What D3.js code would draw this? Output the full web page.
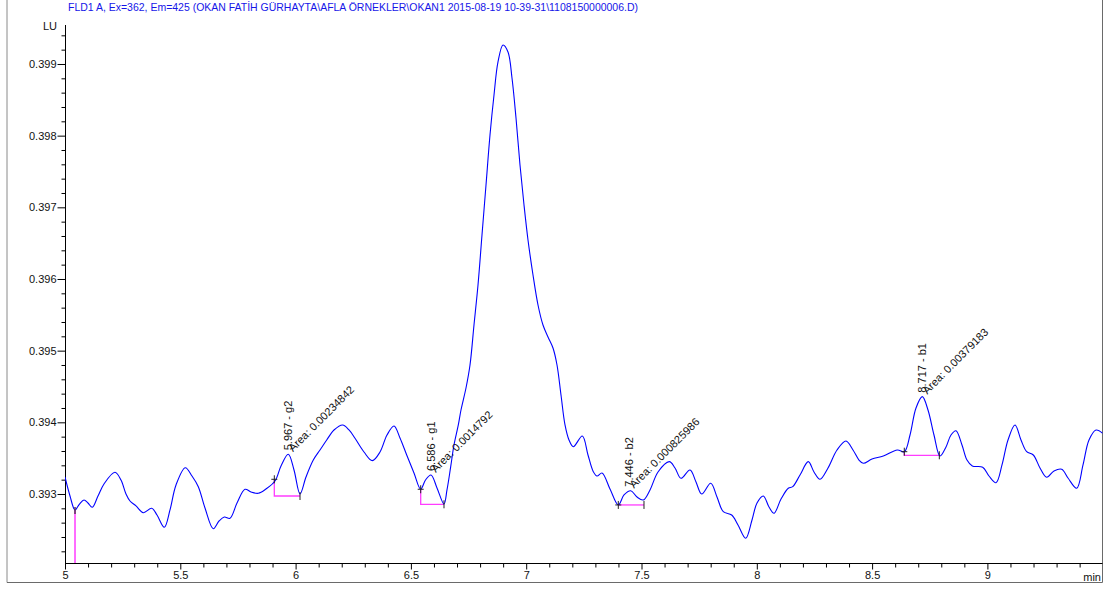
<!DOCTYPE html>
<html><head><meta charset="utf-8">
<script src="https://cdn.jsdelivr.net/npm/d3@7"></script>
<style>
body{margin:0;background:#fff}
text{font-family:"Liberation Sans",Arial,sans-serif;}
</style>
</head><body>
<svg id="chart" width="1115" height="590"></svg>
<script>
// ---------- data ----------
const titleText = "FLD1 A, Ex=362, Em=425 (OKAN FATİH GÜRHAYTA\\AFLA ÖRNEKLER\\OKAN1 2015-08-19 10-39-31\\1108150000006.D)";
const yUnit = "LU";
const xUnit = "min";
const xTickValues = [5, 5.5, 6, 6.5, 7, 7.5, 8, 8.5, 9];
const xTickLabels = ["5", "5.5", "6", "6.5", "7", "7.5", "8", "8.5", "9"];
const yTickValues = [0.393, 0.394, 0.395, 0.396, 0.397, 0.398, 0.399];
const yTickLabels = ["0.393", "0.394", "0.395", "0.396", "0.397", "0.398", "0.399"];

const time = [5.0000,5.0217,5.0434,5.0629,5.0824,5.0997,5.1184,5.1431,5.1691,5.2168,
5.2428,5.2645,5.2819,5.3079,5.3395,5.3760,5.3990,5.4306,5.4553,5.4814,
5.5217,5.5507,5.5781,5.6071,5.6431,5.6678,5.6908,5.7155,5.7459,5.7806,
5.8066,5.8382,5.8716,5.9107,5.9367,5.9683,5.9931,6.0191,6.0451,6.0767,
6.1058,6.1349,6.1665,6.2042,6.2316,6.2576,6.2966,6.3326,6.3660,6.3964,
6.4267,6.4527,6.4818,6.5134,6.5425,6.5633,6.5872,6.6132,6.6435,6.6565,
6.6726,6.6869,6.7056,6.7172,6.7389,6.7563,6.7736,6.7910,6.8083,6.8257,
6.8430,6.8604,6.8777,6.8994,6.9211,6.9384,6.9558,6.9731,6.9905,7.0078,
7.0295,7.0512,7.0728,7.0945,7.1162,7.1336,7.1509,7.1683,7.1856,7.2043,
7.2433,7.2680,7.2910,7.3070,7.3287,7.3634,7.3994,7.4241,7.4532,7.4805,
7.5078,7.5369,7.5716,7.6206,7.6453,7.6713,7.7103,7.7364,7.7611,7.8001,
7.8274,7.8547,7.8911,7.9185,7.9519,7.9792,8.0009,8.0282,8.0529,8.0746,
8.1050,8.1366,8.1557,8.1874,8.2233,8.2480,8.2741,8.3088,8.3478,8.3868,
8.4172,8.4432,8.4618,8.4996,8.5486,8.6093,8.6396,8.6644,8.6904,8.7177,
8.7424,8.7684,8.7944,8.8205,8.8421,8.8638,8.8898,8.9115,8.9345,8.9796,
9.0069,9.0373,9.0633,9.0893,9.1197,9.1457,9.1704,9.1990,9.2281,9.2571,
9.2888,9.3222,9.3495,9.3871,9.4146,9.4406,9.4709,9.5000];

const signal = [0.393237,0.392972,0.392777,0.392860,0.392916,0.392874,0.392814,0.392972,0.393140,0.393303,
0.393195,0.393000,0.392902,0.392833,0.392739,0.392800,0.392707,0.392535,0.392777,0.393126,
0.393367,0.393251,0.393102,0.392805,0.392516,0.392623,0.392679,0.392661,0.392874,0.393066,
0.393028,0.393010,0.393070,0.393181,0.393391,0.393554,0.393335,0.393000,0.393237,0.393474,
0.393614,0.393753,0.393893,0.393963,0.393893,0.393777,0.393586,0.393465,0.393586,0.393823,
0.393949,0.393781,0.393544,0.393293,0.393066,0.393195,0.393265,0.393084,0.392860,0.393056,
0.393381,0.393684,0.393963,0.394172,0.394479,0.394800,0.395358,0.395916,0.396614,0.397311,
0.398009,0.398567,0.399028,0.399265,0.399167,0.398804,0.398246,0.397590,0.397032,0.396544,
0.396056,0.395637,0.395358,0.395191,0.395037,0.394800,0.394381,0.393963,0.393753,0.393660,
0.393809,0.393544,0.393311,0.393251,0.393293,0.393070,0.392847,0.392986,0.393046,0.392958,
0.392916,0.393056,0.393307,0.393451,0.393363,0.393219,0.393335,0.393167,0.393000,0.393149,
0.392958,0.392753,0.392707,0.392567,0.392382,0.392637,0.392874,0.392972,0.392819,0.392731,
0.392930,0.393080,0.393102,0.393265,0.393451,0.393307,0.393205,0.393363,0.393614,0.393740,
0.393614,0.393474,0.393428,0.393488,0.393530,0.393614,0.393590,0.393823,0.394200,0.394358,
0.394172,0.393823,0.393530,0.393656,0.393823,0.393883,0.393684,0.393474,0.393391,0.393373,
0.393251,0.393158,0.393405,0.393753,0.393963,0.393753,0.393590,0.393544,0.393363,0.393233,
0.393321,0.393345,0.393223,0.393080,0.393405,0.393753,0.393893,0.393847];

// integrated peaks
const peakRT = [5.967, 6.586, 7.446, 8.717];
const peakName = ["g2", "g1", "b2", "b1"];
const peakArea = ["0.00234842", "0.0014792", "0.000825986", "0.00379183"];
const peakApex = [0.393554, 0.393265, 0.393046, 0.394358];
const peakStart = [5.9077, 6.5425, 7.3994, 8.6396];
const peakStartLevel = [0.393205, 0.393066, 0.392847, 0.393590];
const peakEnd = [6.0191, 6.6435, 7.5108, 8.7915];
const peakBaseLevel = [0.392972, 0.392856, 0.392847, 0.393540];
// baseline drop line at the left edge
const dropTime = [5.0434];
const dropLevel = [0.392777];

// ---------- drawing ----------
const svg = d3.select("#chart");
const x = d3.scaleLinear().domain([5, 9.5]).range([65, 1102.7]);
const y = d3.scaleLinear().domain([0.392037, 0.399544]).range([563, 25]);

// outer frame
svg.append("line").attr("x1", 7).attr("x2", 7).attr("y1", 0).attr("y2", 582.5).attr("stroke", "#8a8a8a");
svg.append("line").attr("x1", 7).attr("x2", 1102.5).attr("y1", 582.5).attr("y2", 582.5).attr("stroke", "#6a6a6a");
svg.append("line").attr("x1", 1102.5).attr("x2", 1102.5).attr("y1", 0).attr("y2", 582.5).attr("stroke", "#6a6a6a");

// title
svg.append("text").attr("x", 68).attr("y", 11).attr("font-size", 11)
  .attr("fill", "#1515e8").attr("textLength", 570).attr("lengthAdjust", "spacingAndGlyphs")
  .text(titleText);

// axes
const yMinor = d3.range(0, 40).map(i => +(0.3922 + i * 0.0002).toFixed(4)).filter(v => v <= 0.39955 && !yTickValues.some(t => Math.abs(t - v) < 1e-7));
const xMinor = d3.range(0, 45).map(i => +(5 + i * 0.1).toFixed(2)).filter(v => !xTickValues.some(t => Math.abs(t - v) < 1e-7));

const gy = svg.append("g").attr("transform", "translate(65.5,0)");
gy.call(d3.axisLeft(y).tickValues(yMinor).tickSize(4).tickFormat(""));
gy.call(g => g.select(".domain").remove());
const gy2 = svg.append("g").attr("transform", "translate(65.5,0)");
gy2.call(d3.axisLeft(y).tickValues(yTickValues).tickSize(8).tickPadding(1).tickFormat((d, i) => yTickLabels[i]));
gy2.selectAll("text").attr("font-size", 11).attr("font-family", "Liberation Sans, Arial, sans-serif").attr("fill", "#111");
gy2.select(".domain").remove();
svg.append("line").attr("x1", 65.5).attr("x2", 65.5).attr("y1", 25).attr("y2", 563.5).attr("stroke", "#000");

const gx = svg.append("g").attr("transform", "translate(0,563.5)");
gx.call(d3.axisBottom(x).tickValues(xMinor).tickSize(4).tickFormat(""));
gx.select(".domain").remove();
const gx2 = svg.append("g").attr("transform", "translate(0,563.5)");
gx2.call(d3.axisBottom(x).tickValues(xTickValues).tickSize(6).tickPadding(2).tickFormat((d, i) => xTickLabels[i]));
gx2.selectAll("text").attr("font-size", 11).attr("font-family", "Liberation Sans, Arial, sans-serif").attr("fill", "#111");
gx2.select(".domain").remove();
svg.append("line").attr("x1", 65).attr("x2", 1102.5).attr("y1", 563.5).attr("y2", 563.5).attr("stroke", "#000");

svg.append("text").attr("x", 57).attr("y", 30).attr("text-anchor", "end").attr("font-size", 11).attr("fill", "#111").text(yUnit);
svg.append("text").attr("x", 1101).attr("y", 581).attr("text-anchor", "end").attr("font-size", 11).attr("fill", "#111").text(xUnit);

// clip
svg.append("clipPath").attr("id", "clip").append("rect").attr("x", 65).attr("y", 20).attr("width", 1037.5).attr("height", 543.5);

const plot = svg.append("g").attr("clip-path", "url(#clip)");
const magenta = "#ff3cff";

// drop line
plot.selectAll(".drop").data(dropTime).enter().append("line")
  .attr("x1", d => x(d)).attr("x2", d => x(d))
  .attr("y1", (d, i) => y(dropLevel[i])).attr("y2", 563)
  .attr("stroke", magenta).attr("stroke-width", 1.5);

// integration baselines
peakRT.forEach((rt, i) => {
  const p = d3.path();
  p.moveTo(x(peakStart[i]), y(peakStartLevel[i]));
  p.lineTo(x(peakStart[i]), y(peakBaseLevel[i]));
  p.lineTo(x(peakEnd[i]), y(peakBaseLevel[i]));
  plot.append("path").attr("d", p.toString()).attr("fill", "none").attr("stroke", magenta).attr("stroke-width", 1.3);
});

// signal
const line = d3.line().x((d, i) => x(time[i])).y((d, i) => y(signal[i])).curve(d3.curveCatmullRom.alpha(0.5));
plot.append("path").attr("d", line(signal)).attr("fill", "none").attr("stroke", "#0000ff").attr("stroke-width", 1.1);

// start/end markers
peakRT.forEach((rt, i) => {
  const sx = x(peakStart[i]), sy = y(peakStartLevel[i]);
  const ex = x(peakEnd[i]), ey = y(peakBaseLevel[i]);
  plot.append("line").attr("x1", sx).attr("x2", sx).attr("y1", sy - 4).attr("y2", sy + 4).attr("stroke", "#222");
  plot.append("line").attr("x1", sx - 3).attr("x2", sx + 3).attr("y1", sy).attr("y2", sy).attr("stroke", "#222");
  plot.append("line").attr("x1", ex).attr("x2", ex).attr("y1", ey - 4).attr("y2", ey + 4).attr("stroke", "#222");
});
dropTime.forEach((t, i) => {
  plot.append("line").attr("x1", x(t)).attr("x2", x(t)).attr("y1", y(dropLevel[i]) - 3).attr("y2", y(dropLevel[i]) + 4).attr("stroke", "#553355").attr("stroke-width", 1.5);
});

// labels
peakRT.forEach((rt, i) => {
  const px = x(rt), py = y(peakApex[i]);
  svg.append("text").attr("transform", `translate(${px + 4},${py - 4}) rotate(-90)`)
    .attr("font-size", 11).attr("fill", "#111").text(`${rt.toFixed(3)} - ${peakName[i]}`);
  svg.append("text").attr("transform", `translate(${px + 5},${py - 2}) rotate(-45)`)
    .attr("font-size", 11).attr("fill", "#111").text(`Area: ${peakArea[i]}`);
});
</script>
</body></html>
